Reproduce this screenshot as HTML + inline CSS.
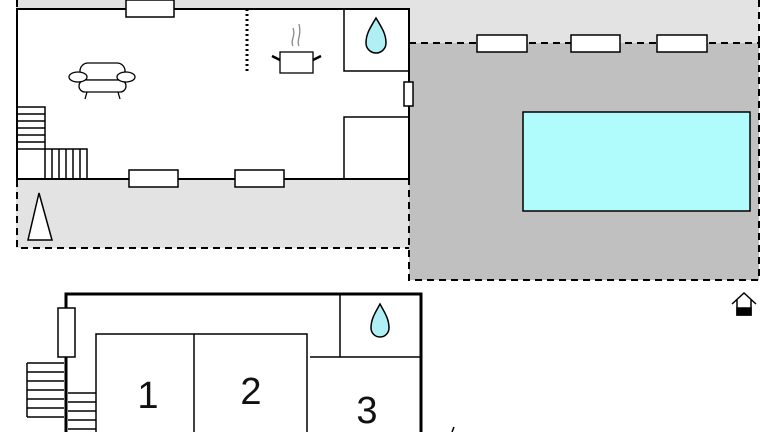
<!DOCTYPE html><html><head><style>body{margin:0;background:#fff}svg{display:block}</style></head><body>
<svg width="768" height="432" viewBox="0 0 768 432" xmlns="http://www.w3.org/2000/svg" font-family="Liberation Sans, sans-serif">
<rect x="16" y="0" width="743" height="248" fill="#e3e3e3"/>
<rect x="409" y="43" width="350" height="237" fill="#c0c0c0"/>
<g fill="none" stroke="#000" stroke-width="2" stroke-dasharray="7,5">
<path d="M17 0V248H409"/><path d="M409 43H759V280H409V179"/><path d="M759 0V43"/>
</g>
<rect x="523" y="112" width="227" height="99" fill="#b0fcfc" stroke="#000" stroke-width="1.5"/>
<g fill="#fff" stroke="#000" stroke-width="1.5">
<rect x="477" y="35" width="50" height="17"/><rect x="571" y="35" width="49" height="17"/><rect x="657" y="35" width="50" height="17"/>
</g>
<rect x="17" y="9" width="392" height="170" fill="#fff" stroke="#000" stroke-width="2"/>
<g fill="none" stroke="#000" stroke-width="1.5">
<rect x="344" y="9" width="65" height="62"/><rect x="344" y="117" width="65" height="62"/>
<path d="M17 107H45V179M17 114H45M17 121H45M17 128H45M17 135H45M17 142H45M17 149H87V179M52 149V179M59 149V179M66 149V179M73 149V179M80 149V179"/>
</g>
<path d="M247 9V72" stroke="#000" stroke-width="3" stroke-dasharray="2,3"/>
<g fill="#fff" stroke="#000" stroke-width="1.5">
<rect x="126" y="0" width="48" height="17"/><rect x="129" y="170" width="49" height="17"/><rect x="235" y="170" width="49" height="17"/>
<rect x="404" y="82" width="9" height="24"/>
<path d="M28 240H52L39 193Z"/>
</g>
<path d="M376 18C370 28 366 34 366 43A10 10 0 0 0 386 43C386 34 382 28 376 18Z" fill="#b0f0f4" stroke="#000" stroke-width="1.5"/>
<g fill="#fff" stroke="#000" stroke-width="1.3">
<rect x="280" y="52" width="33" height="21"/>
<path d="M280 60L272 56M313 60L321 56" stroke-width="2.5"/>
<path d="M293 46C290 40 296 36 293 28M299 46C296 40 302 36 299 24" stroke="#888" fill="none"/>
<rect x="80" y="63" width="45" height="17" rx="8"/><rect x="79" y="80" width="47" height="12" rx="6"/>
<ellipse cx="78" cy="77" rx="9" ry="5"/><ellipse cx="126" cy="77" rx="9" ry="5"/>
<path d="M87 92L85 99M118 92L120 99" fill="none"/>
</g>
<g stroke="#000" stroke-width="1.5" fill="#fff">
<path d="M732 304L744 293L756 304M737 300V315H751V300" fill="none"/>
<rect x="737" y="308" width="14" height="7" fill="#000"/>
</g>
<rect x="66" y="294" width="355" height="150" fill="none" stroke="#000" stroke-width="3"/>
<g fill="none" stroke="#000" stroke-width="1.5">
<rect x="96" y="334" width="211" height="110"/><path d="M194 334V432M310 357H421M340 294V357"/>
<path d="M27 363H64M27 372H64M27 381H64M27 390H64M27 399H64M27 408H64M27 417H64M27 363V417"/>
<path d="M68 393H96M68 402H96M68 411H96M68 420H96M68 429H96"/>
</g>
<rect x="58" y="308" width="17" height="49" fill="#fff" stroke="#000" stroke-width="1.5"/>
<path d="M380 304C375 313 371 319 371 328A9 9 0 0 0 389 328C389 319 385 313 380 304Z" fill="#b0f0f4" stroke="#000" stroke-width="1.5"/>
<g font-size="38" text-anchor="middle" fill="#111">
<text x="148" y="408">1</text><text x="251" y="404">2</text><text x="367" y="423">3</text>
</g>
<path d="M452 432L454 427" stroke="#000" stroke-width="1.5"/>
</svg>
</body></html>
